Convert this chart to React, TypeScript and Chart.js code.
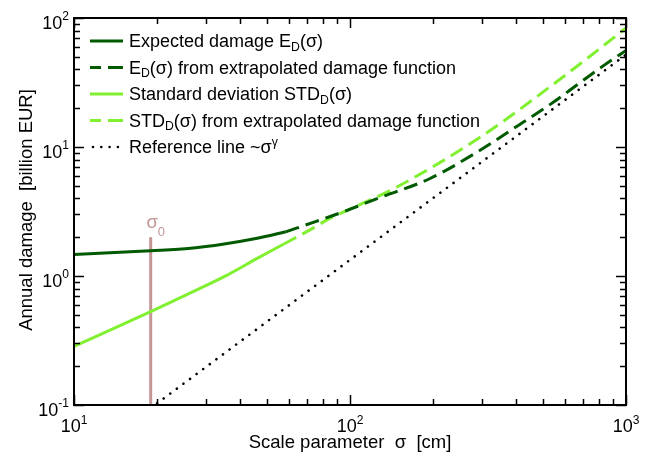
import React, { useEffect, useRef } from 'react';
import { Chart, registerables } from 'chart.js';

Chart.register(...registerables);

// ---- data ----
const sigmaExpSolid = [10, 18.96, 26.5, 35, 46.1, 58.5];
const expSolid = [1.47, 1.57, 1.64, 1.77, 1.96, 2.2];
const sigmaExpExt = [58.5, 75, 92, 128, 195, 300, 403, 550, 681, 839, 1000];
const expExt = [2.2, 2.64, 3.08, 4.05, 5.7, 9.6, 14.5, 22.5, 31.5, 43.5, 56];
const sigmaStdSolid = [10, 18.96, 26.5, 35, 46.1, 57.6];
const stdSolid = [0.285, 0.529, 0.742, 0.988, 1.37, 1.77];
const sigmaStdExt = [57.6, 73.5, 84.8, 100, 148, 296, 591, 1000];
const stdExt = [1.77, 2.35, 2.81, 3.3, 4.9, 11.9, 34.9, 83.6];
const sigmaRef = [20, 1000];
const refLine = [0.103, 52];
const sigma0 = 18.96;
const sigma0Range = [0.1, 2.0];

const xMajor = [10, 100, 1000];
const xExp = ['1', '2', '3'];
const yMajor = [0.1, 1, 10, 100];
const yExp = ['-1', '0', '1', '2'];

const xTitle = 'Scale parameter  \u03c3  [cm]';
const yTitle = 'Annual damage  [billion EUR]';

type Part = { t: string; s?: 'sub' | 'sup' };
const legendRows: { parts: Part[]; color: string; style: 'solid' | 'dash' | 'dot' }[] = [
  { parts: [{ t: 'Expected damage E' }, { t: 'D', s: 'sub' }, { t: '(\u03c3)' }], color: '#005a00', style: 'solid' },
  { parts: [{ t: 'E' }, { t: 'D', s: 'sub' }, { t: '(\u03c3) from extrapolated damage function' }], color: '#005a00', style: 'dash' },
  { parts: [{ t: 'Standard deviation STD' }, { t: 'D', s: 'sub' }, { t: '(\u03c3)' }], color: '#80f030', style: 'solid' },
  { parts: [{ t: 'STD' }, { t: 'D', s: 'sub' }, { t: '(\u03c3) from extrapolated damage function' }], color: '#80f030', style: 'dash' },
  { parts: [{ t: 'Reference line ~\u03c3' }, { t: '\u03b3', s: 'sup' }], color: '#000000', style: 'dot' },
];

const DARK = '#005a00';
const LIGHT = '#80f030';
const ROSY = '#c49696';
const FONT = '"Liberation Sans", Arial, Helvetica, sans-serif';
const font = (s: number) => `${s}px ${FONT}`;

const toXY = (xs: number[], ys: number[]) => xs.map((x, i) => ({ x, y: ys[i] }));

function drawRich(
  ctx: CanvasRenderingContext2D,
  parts: Part[],
  x: number,
  y: number,
  size: number,
  align: 'left' | 'right' | 'center',
  subScale = 0.68,
  subDy = 3.5,
  supDy = -8
) {
  const sizes = parts.map((p) => (p.s ? size * subScale : size));
  const widths = parts.map((p, i) => {
    ctx.font = font(sizes[i]);
    return ctx.measureText(p.t).width;
  });
  const total = widths.reduce((a, b) => a + b, 0);
  let cx = align === 'left' ? x : align === 'right' ? x - total : x - total / 2;
  ctx.textAlign = 'left';
  ctx.textBaseline = 'alphabetic';
  parts.forEach((p, i) => {
    ctx.font = font(sizes[i]);
    const dy = p.s === 'sub' ? subDy : p.s === 'sup' ? supDy : 0;
    ctx.fillText(p.t, cx, y + dy);
    cx += widths[i];
  });
}

const framePlugin = {
  id: 'frame',
  afterDraw(chart: any) {
    const ctx: CanvasRenderingContext2D = chart.ctx;
    const { left, right, top, bottom } = chart.chartArea;
    const xs = chart.scales.x;
    const ys = chart.scales.y;
    ctx.save();
    ctx.fillStyle = '#000';
    ctx.strokeStyle = '#000';

    // ticks (inward on all sides)
    ctx.lineWidth = 1.5;
    ctx.beginPath();
    for (let d = 0; d < xMajor.length; d++) {
      const base = xMajor[d];
      const maxM = d === xMajor.length - 1 ? 1 : 9;
      for (let m = 1; m <= maxM; m++) {
        const px = Math.round(xs.getPixelForValue(base * m)) + 0.5;
        const len = m === 1 ? 10 : 6;
        ctx.moveTo(px, bottom);
        ctx.lineTo(px, bottom - len);
        ctx.moveTo(px, top);
        ctx.lineTo(px, top + len);
      }
    }
    for (let d = 0; d < yMajor.length; d++) {
      const base = yMajor[d];
      const maxM = d === yMajor.length - 1 ? 1 : 9;
      for (let m = 1; m <= maxM; m++) {
        const py = Math.round(ys.getPixelForValue(base * m)) + 0.5;
        const len = m === 1 ? 10 : 6;
        ctx.moveTo(left, py);
        ctx.lineTo(left + len, py);
        ctx.moveTo(right, py);
        ctx.lineTo(right - len, py);
      }
    }
    ctx.stroke();

    // frame
    ctx.lineWidth = 2;
    ctx.strokeRect(left, top, right - left, bottom - top);

    // tick labels
    xMajor.forEach((v, i) => {
      const px = xs.getPixelForValue(v);
      drawRich(ctx, [{ t: '10' }, { t: xExp[i], s: 'sup' }], px, bottom + 27, 18, 'center', 0.67, 0, -8.5);
    });
    yMajor.forEach((v, i) => {
      const py = ys.getPixelForValue(v);
      drawRich(ctx, [{ t: '10' }, { t: yExp[i], s: 'sup' }], left - 5, py + 10.5, 18, 'right', 0.67, 0, -9);
    });

    // axis titles
    ctx.font = font(18.5);
    ctx.textAlign = 'center';
    ctx.textBaseline = 'alphabetic';
    ctx.fillText(xTitle, (left + right) / 2, bottom + 43);
    ctx.save();
    ctx.translate(32, 210);
    ctx.rotate(-Math.PI / 2);
    ctx.fillText(yTitle, 0, 0);
    ctx.restore();

    // legend
    const rowY0 = 41;
    const rowStep = 26.5;
    legendRows.forEach((row, i) => {
      const y = rowY0 + i * rowStep;
      ctx.strokeStyle = row.color;
      ctx.fillStyle = row.color;
      ctx.lineWidth = 3;
      ctx.setLineDash([]);
      if (row.style === 'solid') {
        ctx.beginPath();
        ctx.moveTo(90, y);
        ctx.lineTo(123, y);
        ctx.stroke();
      } else if (row.style === 'dash') {
        ctx.beginPath();
        ctx.moveTo(90, y);
        ctx.lineTo(101, y);
        ctx.moveTo(108, y);
        ctx.lineTo(123, y);
        ctx.stroke();
      } else {
        for (let k = 0; k < 4; k++) {
          ctx.beginPath();
          ctx.arc(93 + k * 8.3, y, 1.3, 0, Math.PI * 2);
          ctx.fill();
        }
      }
      ctx.fillStyle = '#000';
      drawRich(ctx, row.parts, 129, y + 6, 18, 'left', 0.68, 3.5, -7.5);
    });

    // sigma_0 label
    ctx.fillStyle = ROSY;
    const sx = xs.getPixelForValue(sigma0);
    drawRich(ctx, [{ t: '\u03c3' }, { t: '0', s: 'sub' }], sx + 5, 228, 18.5, 'center', 0.7, 8, 0);

    ctx.restore();
  },
};

export default function App() {
  const ref = useRef<HTMLCanvasElement | null>(null);
  useEffect(() => {
    if (!ref.current) return;
    const chart = new Chart(ref.current, {
      type: 'line',
      data: {
        datasets: [
          {
            data: toXY(sigmaExpSolid, expSolid),
            borderColor: DARK,
            borderWidth: 3,
            cubicInterpolationMode: 'monotone',
          },
          {
            data: toXY(sigmaExpExt, expExt),
            borderColor: DARK,
            borderWidth: 3,
            borderDash: [14, 7],
            cubicInterpolationMode: 'monotone',
          },
          {
            data: toXY(sigmaStdSolid, stdSolid),
            borderColor: LIGHT,
            borderWidth: 3,
            cubicInterpolationMode: 'monotone',
          },
          {
            data: toXY(sigmaStdExt, stdExt),
            borderColor: LIGHT,
            borderWidth: 3,
            borderDash: [14, 7],
            cubicInterpolationMode: 'monotone',
          },
          {
            data: toXY(sigmaRef, refLine),
            borderColor: '#000',
            borderWidth: 2.6,
            borderDash: [0.01, 8.2],
            borderCapStyle: 'round',
          },
          {
            data: toXY([sigma0, sigma0], sigma0Range),
            borderColor: ROSY,
            borderWidth: 3,
          },
        ] as any,
      },
      options: {
        animation: false,
        responsive: false,
        maintainAspectRatio: false,
        devicePixelRatio: 1,
        layout: { padding: { left: 74, right: 30, top: 18, bottom: 53 } },
        elements: { point: { radius: 0, hoverRadius: 0 } },
        plugins: { legend: { display: false }, tooltip: { enabled: false } },
        events: [],
        scales: {
          x: { type: 'logarithmic', min: 10, max: 1000, display: false },
          y: { type: 'logarithmic', min: 0.1, max: 100, display: false },
        },
      } as any,
      plugins: [framePlugin],
    });
    return () => chart.destroy();
  }, []);
  return (
    <div style={{ position: 'fixed', left: 0, top: 0, width: 656, height: 458, background: '#fff' }}>
      <canvas ref={ref} width={656} height={458} style={{ width: 656, height: 458, display: 'block' }} />
    </div>
  );
}
